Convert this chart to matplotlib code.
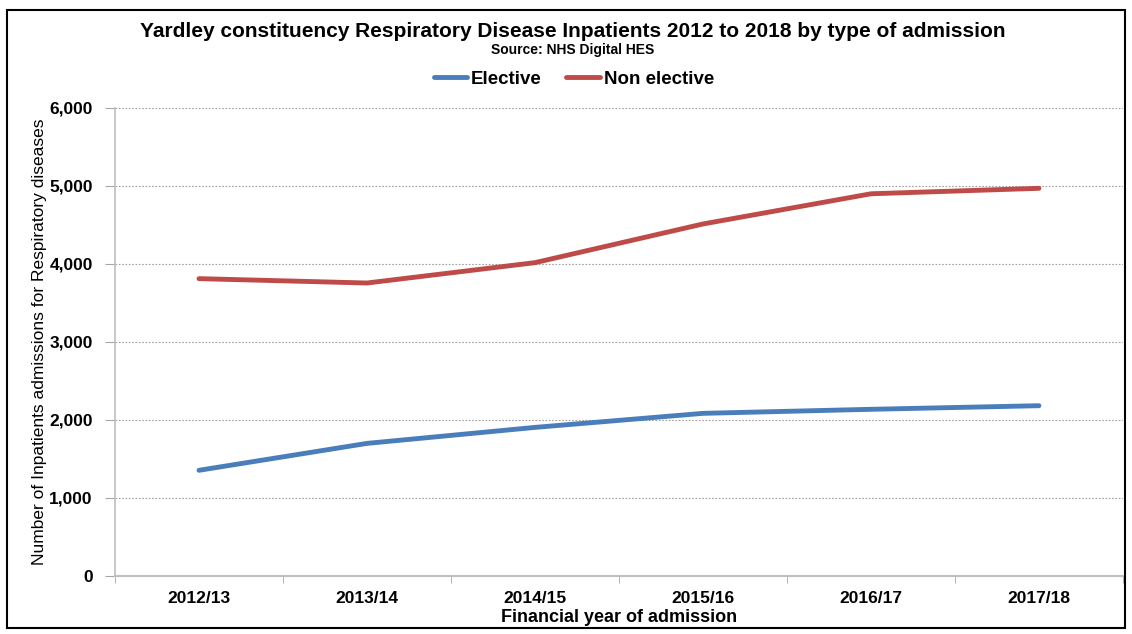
import matplotlib.pyplot as plt
from matplotlib.patches import Rectangle
from matplotlib.ticker import FuncFormatter

plt.rcParams['font.family'] = ['Liberation Sans', 'DejaVu Sans']

years = ['2012/13', '2013/14', '2014/15', '2015/16', '2016/17', '2017/18']
elective = [1355, 1700, 1905, 2085, 2137, 2183]
non_elective = [3812, 3756, 4017, 4513, 4900, 4970]

fig = plt.figure(figsize=(11.32, 6.34), dpi=100)
ax = fig.add_axes([0.1016, 0.0915, 0.8904, 0.7382])

x = range(len(years))
ax.plot(x, elective, color='#4a7ebb', lw=3.5, label='Elective', solid_capstyle='round')
ax.plot(x, non_elective, color='#be4b48', lw=3.5, label='Non elective', solid_capstyle='round')

ax.set_xlim(-0.5, len(years) - 0.5)
ax.set_ylim(0, 6000)
ax.set_yticks(range(0, 6001, 1000))
ax.yaxis.set_major_formatter(FuncFormatter(lambda v, p: f'{int(v):,}'))
ax.set_xticks(x)
ax.set_xticklabels(years)
ax.set_xticks([i - 0.5 for i in range(len(years) + 1)], minor=True)

for lbl in ax.get_xticklabels() + ax.get_yticklabels():
    lbl.set_fontweight('bold')
    lbl.set_fontsize(12.5)

ax.tick_params(axis='x', which='major', length=0, pad=11)
ax.tick_params(axis='x', which='minor', length=5, color='#a6a6a6', direction='out')
ax.tick_params(axis='y', length=7, color='#a6a6a6', pad=9)

ax.grid(axis='y', linestyle=(0, (1.5, 1.5)), color='#a0a0a0', lw=0.8)
for s in ['top', 'right']:
    ax.spines[s].set_visible(False)
ax.spines['left'].set_color('#bfbfbf')
ax.spines['bottom'].set_color('#bfbfbf')
ax.spines['left'].set_linewidth(1.2)
ax.spines['bottom'].set_linewidth(1.5)

ax.set_xlabel('Financial year of admission', fontsize=13, fontweight='bold', labelpad=2)
ax.set_ylabel('Number of Inpatients admissions for Respiratory diseases', fontsize=12.5, labelpad=2)

fig.text(0.506, 0.950, 'Yardley constituency Respiratory Disease Inpatients 2012 to 2018 by type of admission',
         ha='center', va='center', fontsize=15, fontweight='bold')
fig.text(0.506, 0.921, 'Source: NHS Digital HES', ha='center', va='center', fontsize=10, fontweight='bold')

fig.legend(loc='center', bbox_to_anchor=(0.507, 0.875), ncol=2, frameon=False,
           prop={'weight': 'bold', 'size': 13.5}, handlelength=1.8, handletextpad=0.2, columnspacing=1.3)

fig.patches.append(Rectangle((0.006, 0.01), 0.988, 0.975, transform=fig.transFigure,
                             fill=False, edgecolor='black', lw=1.5))

fig.savefig('out.png', dpi=100)
